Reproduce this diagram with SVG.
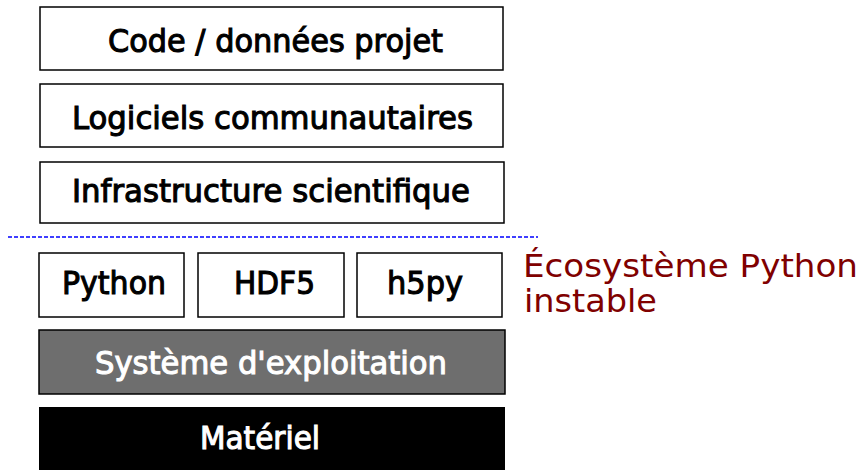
<svg xmlns="http://www.w3.org/2000/svg" width="863" height="470" viewBox="0 0 863 470">
<style>
.box{fill:#fff;stroke:#000;stroke-width:1.5}
.t{font-family:"DejaVu Sans",sans-serif;font-size:32px;fill:#000;stroke:#000;stroke-width:1.1}
.w{fill:#fff;stroke:#fff}
.red{font-family:"DejaVu Sans",sans-serif;font-size:32px;fill:#800000}
</style>
<rect width="863" height="470" fill="#fff"/>
<g id="code"><rect class="box" x="40" y="7" width="463" height="63"/><text class="t" x="108" y="52" textLength="335" lengthAdjust="spacingAndGlyphs">Code / données projet</text></g>
<g id="logiciels"><rect class="box" x="40" y="84" width="463" height="63"/><text class="t" x="72" y="129" textLength="401" lengthAdjust="spacingAndGlyphs">Logiciels communautaires</text></g>
<g id="infra"><rect class="box" x="40" y="162" width="464" height="61"/><text class="t" x="72" y="202" textLength="398" lengthAdjust="spacingAndGlyphs">Infrastructure scientifique</text></g>
<g id="separateur"><line x1="8" y1="237" x2="538" y2="237" stroke="#0000ff" stroke-width="1.5" stroke-dasharray="4,2"/></g>
<g id="python"><rect class="box" x="39" y="253" width="145" height="64"/><text class="t" x="62" y="294" textLength="104" lengthAdjust="spacingAndGlyphs">Python</text></g>
<g id="hdf5"><rect class="box" x="198" y="253" width="146" height="64"/><text class="t" x="234" y="294" textLength="81" lengthAdjust="spacingAndGlyphs">HDF5</text></g>
<g id="h5py"><rect class="box" x="357" y="253" width="145" height="64"/><text class="t" x="387" y="294" textLength="76" lengthAdjust="spacingAndGlyphs">h5py</text></g>
<g id="os"><rect x="39" y="330" width="466" height="64" fill="#6e6e6e" stroke="#000" stroke-width="1.5"/><text class="t w" x="95" y="374" textLength="352" lengthAdjust="spacingAndGlyphs">Système d'exploitation</text></g>
<g id="materiel"><rect x="39" y="407" width="466" height="63" fill="#000"/><text class="t w" x="200" y="449" textLength="120" lengthAdjust="spacingAndGlyphs">Matériel</text></g>
<g id="label"><text class="red" x="523" y="277" textLength="335" lengthAdjust="spacingAndGlyphs">Écosystème Python</text><text class="red" x="524" y="312" textLength="133" lengthAdjust="spacingAndGlyphs">instable</text></g>
</svg>
